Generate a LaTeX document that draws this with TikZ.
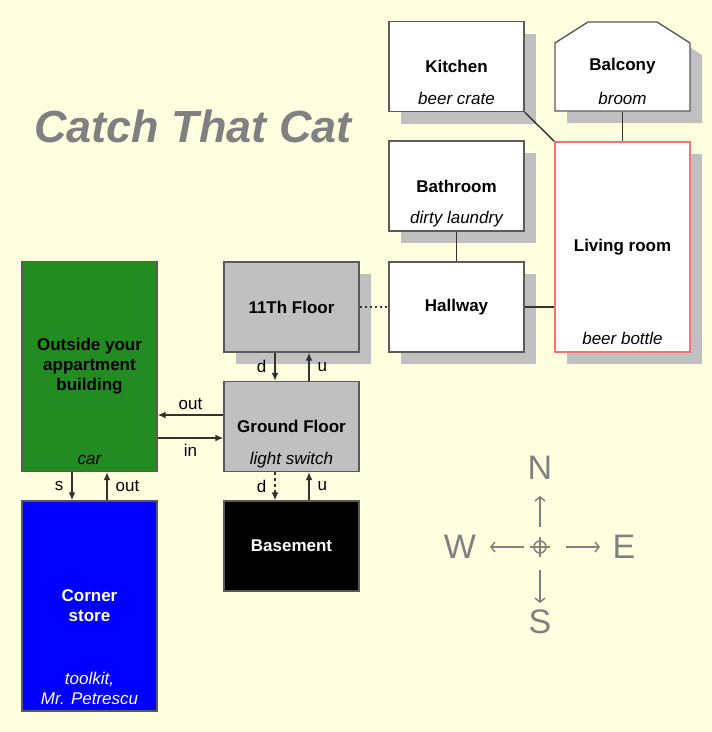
\documentclass[tikz,border=0pt]{standalone}
\usepackage{fontspec}
\setmainfont{Liberation Sans}
\usetikzlibrary{arrows.meta,shadows}
\definecolor{bg}{RGB}{255,255,224}
\definecolor{boxline}{RGB}{90,90,90}
\definecolor{connc}{RGB}{50,50,50}
\definecolor{shadowc}{RGB}{192,192,192}
\definecolor{greyfill}{RGB}{192,192,192}
\definecolor{titlec}{RGB}{128,128,128}
\definecolor{livered}{RGB}{245,115,115}
\definecolor{grn}{RGB}{34,139,34}
\definecolor{blu}{RGB}{0,0,255}
\begin{document}
\begin{tikzpicture}[x=1pt,y=-1pt,
  room/.style={draw=boxline, line width=1.4pt, fill=white, minimum width=135pt,
    minimum height=90pt, inner sep=0pt, align=center,
    font=\bfseries\fontsize{17}{20}\selectfont},
  shadowed/.style={drop shadow={shadow xshift=12pt, shadow yshift=-12pt, opacity=1, fill=shadowc}},
  item/.style={font=\itshape\fontsize{17}{20}\selectfont, inner sep=0pt, anchor=base, align=center},
  conn/.style={draw=connc, line width=1.4pt},
  arr/.style={conn, -{Latex[length=8pt,width=7pt]}},
  lbl/.style={font=\fontsize{17}{20}\selectfont, inner sep=0pt},
  compass/.style={text=titlec, font=\fontsize{34}{40}\selectfont, inner sep=0pt},
  carr/.style={draw=titlec, line width=1.5pt, -{Straight Barb[length=4pt,width=10pt]}},
]
\fill[bg] (0,0) rectangle (712,732);
\useasboundingbox (0,0) rectangle (712,732);

% title
\node[text=titlec, font=\bfseries\itshape\fontsize{45}{52}\selectfont, inner sep=0pt, anchor=base west] (title) at (34,142) {Catch That Cat};

% rooms with shadows
\node[room, shadowed] (kitchen) at (456.5,66.5) {Kitchen};
\node[item] (kitchenitem) at (456.5,104) {beer crate};

\draw[draw=boxline, line width=1.4pt, fill=white, shadowed]
  (555,111) -- (555,43) -- (588,22) -- (657,22) -- (690,43) -- (690,111) -- cycle;
\node[room, draw=none, fill=none] (balcony) at (622.5,66.5) {Balcony};
\node[item] (balconyitem) at (622.5,104) {broom};

\node[room, shadowed] (bathroom) at (456.5,186) {Bathroom};
\node[item] (bathroomitem) at (456.5,223) {dirty laundry};

\node[room, shadowed, draw=livered, minimum height=210pt] (living) at (622.5,247) {Living room};
\node[item] (livingitem) at (622.5,344) {beer bottle};

\node[room, shadowed] (hallway) at (456.5,307) {Hallway};

\node[room, shadowed, fill=greyfill] (floor11) at (291.5,307) {11Th Floor};

% rooms without shadows
\node[room, fill=greyfill] (ground) at (291.5,426.5) {Ground Floor};
\node[item] (grounditem) at (291.5,464) {light switch};

\node[room, fill=black, text=white] (basement) at (291.5,546) {Basement};

\node[room, fill=grn, minimum height=210pt] (outside) at (89.5,366.5) {Outside your\\appartment\\building};
\node[item] (outsideitem) at (89.5,464) {car};

\node[room, fill=blu, text=white, minimum height=210pt] (corner) at (89.5,606) {Corner\\store};
\node[item, text=white] (corneritem) at (89.5,704) {toolkit,\\Mr. Petrescu};

% connectors
\draw[conn] (kitchen.south east) -- (living.north west);
\draw[conn] (balcony.south) -- (living.north);
\draw[conn] (bathroom.south) -- (hallway.north);
\draw[conn] (hallway.east) -- (hallway.east -| living.west);
\draw[conn, dash pattern=on 2pt off 3pt] (floor11.east) -- (hallway.west);

\draw[arr] ([xshift=-16.5pt]floor11.south) -- node[lbl, midway, left=8pt] {d} ([xshift=-16.5pt]ground.north);
\draw[arr] ([xshift=17.5pt]ground.north) -- node[lbl, midway, right=8pt] {u} ([xshift=17.5pt]floor11.south);

\draw[arr, dash pattern=on 3pt off 3pt] ([xshift=-16.5pt]ground.south) -- node[lbl, midway, left=8pt] {d} ([xshift=-16.5pt]basement.north);
\draw[arr] ([xshift=17.5pt]basement.north) -- node[lbl, midway, right=8pt] {u} ([xshift=17.5pt]ground.south);

\coordinate (o1) at ([yshift=11.5pt]ground.west);
\coordinate (i1) at ([yshift=-11.5pt]ground.west);
\draw[arr] (o1) -- node[lbl, midway, above=5pt] {out} (o1 -| outside.east);
\draw[arr] (i1 -| outside.east) -- node[lbl, midway, below=5pt] {in} (i1);

\draw[arr] ([xshift=-17.5pt]outside.south) -- node[lbl, midway, left=8pt] {s} ([xshift=-17.5pt]corner.north);
\draw[arr] ([xshift=17.5pt]corner.north) -- node[lbl, midway, right=8pt] {out} ([xshift=17.5pt]outside.south);

% compass
\coordinate (cc) at (540,547);
\node[compass] (N) at (540,468) {N};
\node[compass] (S) at (540,622) {S};
\node[compass] (W) at (460,547) {W};
\node[compass] (E) at (624,547) {E};
\draw[titlec, line width=1.5pt] (cc) circle (6pt);
\draw[titlec, line width=1.5pt] ([xshift=-10pt]cc) -- ([xshift=10pt]cc);
\draw[titlec, line width=1.5pt] ([yshift=-10pt]cc) -- ([yshift=10pt]cc);
\coordinate (nA) at (540,527); \coordinate (nB) at (540,496);
\coordinate (sA) at (540,570); \coordinate (sB) at (540,603);
\coordinate (wA) at (524,547); \coordinate (wB) at (490,547);
\coordinate (eA) at (566,547); \coordinate (eB) at (600,547);
\draw[carr] (nA) -- (nB);
\draw[carr] (sA) -- (sB);
\draw[carr] (wA) -- (wB);
\draw[carr] (eA) -- (eB);
\end{tikzpicture}
\end{document}
